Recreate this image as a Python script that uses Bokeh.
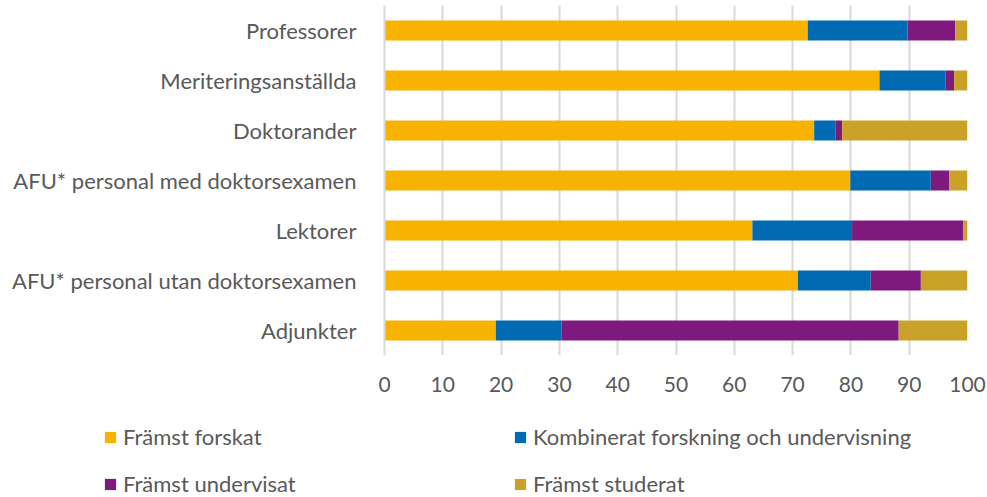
from bokeh.plotting import figure
from bokeh.models import ColumnDataSource, FactorRange, Range1d, Legend, LegendItem, FixedTicker
from bokeh.embed import file_html
from bokeh.resources import INLINE

categories = ["Professorer", "Meriteringsanställda", "Doktorander",
              "AFU* personal med doktorsexamen", "Lektorer",
              "AFU* personal utan doktorsexamen", "Adjunkter"]
framst_forskat = [72.6, 84.9, 73.7, 79.9, 63.1, 70.9, 19.1]
kombinerat = [17.1, 11.3, 3.7, 13.8, 17.1, 12.5, 11.3]
framst_undervisat = [8.2, 1.5, 1.1, 3.2, 19.1, 8.6, 57.8]
framst_studerat = [2.1, 2.3, 21.5, 3.1, 0.7, 8.0, 11.8]
series_names = ["Främst forskat", "Kombinerat forskning och undervisning",
                "Främst undervisat", "Främst studerat"]
colors = ["#F8B200", "#006AB3", "#7E1A7E", "#C9A227"]
xticks = list(range(0, 101, 10))

FONT = "Lato"
TXT = "#595959"

series = [framst_forskat, kombinerat, framst_undervisat, framst_studerat]
lefts = [0.0] * len(categories)

p = figure(width=987, height=401, output_backend="svg", toolbar_location=None,
           y_range=FactorRange(factors=list(reversed(categories)), range_padding=0),
           x_range=Range1d(0, 100),
           min_border_left=384, min_border_right=20, min_border_top=5, min_border_bottom=46)

for i, vals in enumerate(series):
    rights = [l + v for l, v in zip(lefts, vals)]
    src = ColumnDataSource(dict(cat=categories, left=lefts, right=rights))
    p.hbar(y="cat", left="left", right="right", height=0.4, source=src,
           fill_color=colors[i], line_color=None)
    lefts = rights

p.outline_line_color = None
p.background_fill_color = "white"
p.border_fill_color = "white"
p.ygrid.grid_line_color = None
p.xgrid.grid_line_color = "#D9D9D9"
p.xgrid.grid_line_width = 2
p.xgrid.ticker = FixedTicker(ticks=xticks)
p.xaxis.ticker = FixedTicker(ticks=xticks)
p.xaxis.axis_line_color = None
p.xaxis.major_tick_line_color = None
p.xaxis.minor_tick_line_color = None
p.xaxis.major_label_text_font = FONT
p.xaxis.major_label_text_font_size = "21px"
p.xaxis.major_label_text_color = TXT
p.xaxis.major_label_standoff = 15

p.yaxis.axis_line_color = "#D9D9D9"
p.yaxis.axis_line_width = 2
p.yaxis.major_tick_line_color = None
p.yaxis.minor_tick_line_color = None
p.yaxis.major_label_text_font = FONT
p.yaxis.major_label_text_font_size = "22px"
p.yaxis.major_label_text_color = TXT
p.yaxis.major_label_standoff = 22

# legend panel (separate root so it is not aligned to the chart frame)
lg = figure(width=987, height=96, output_backend="svg", toolbar_location=None,
            x_range=Range1d(0, 1), y_range=Range1d(0, 1),
            x_axis_type=None, y_axis_type=None,
            min_border_left=0, min_border_right=0, min_border_top=0, min_border_bottom=0)
lg.outline_line_color = None
lg.grid.visible = False
leg_renderers = {}
for name, c in zip(series_names, colors):
    # swatch-only renderer, its single rect lies outside the visible range
    leg_renderers[name] = lg.rect(x=[5], y=[5], width=1, height=1,
                                  fill_color=c, line_color=None)
order = [series_names[0], series_names[2], series_names[1], series_names[3]]
items = [LegendItem(label=n, renderers=[leg_renderers[n]]) for n in order]
legend = Legend(items=items, ncols=2, location=(103, 0),
                label_text_font=FONT, label_text_font_size="22px",
                label_text_color=TXT, glyph_width=14, glyph_height=14,
                label_standoff=6, label_width=370, spacing=20, label_height=24,
                border_line_color=None, background_fill_alpha=0,
                padding=0, margin=0)
lg.add_layout(legend, "center")

open("out.html", "w").write(file_html([p, lg], INLINE))
